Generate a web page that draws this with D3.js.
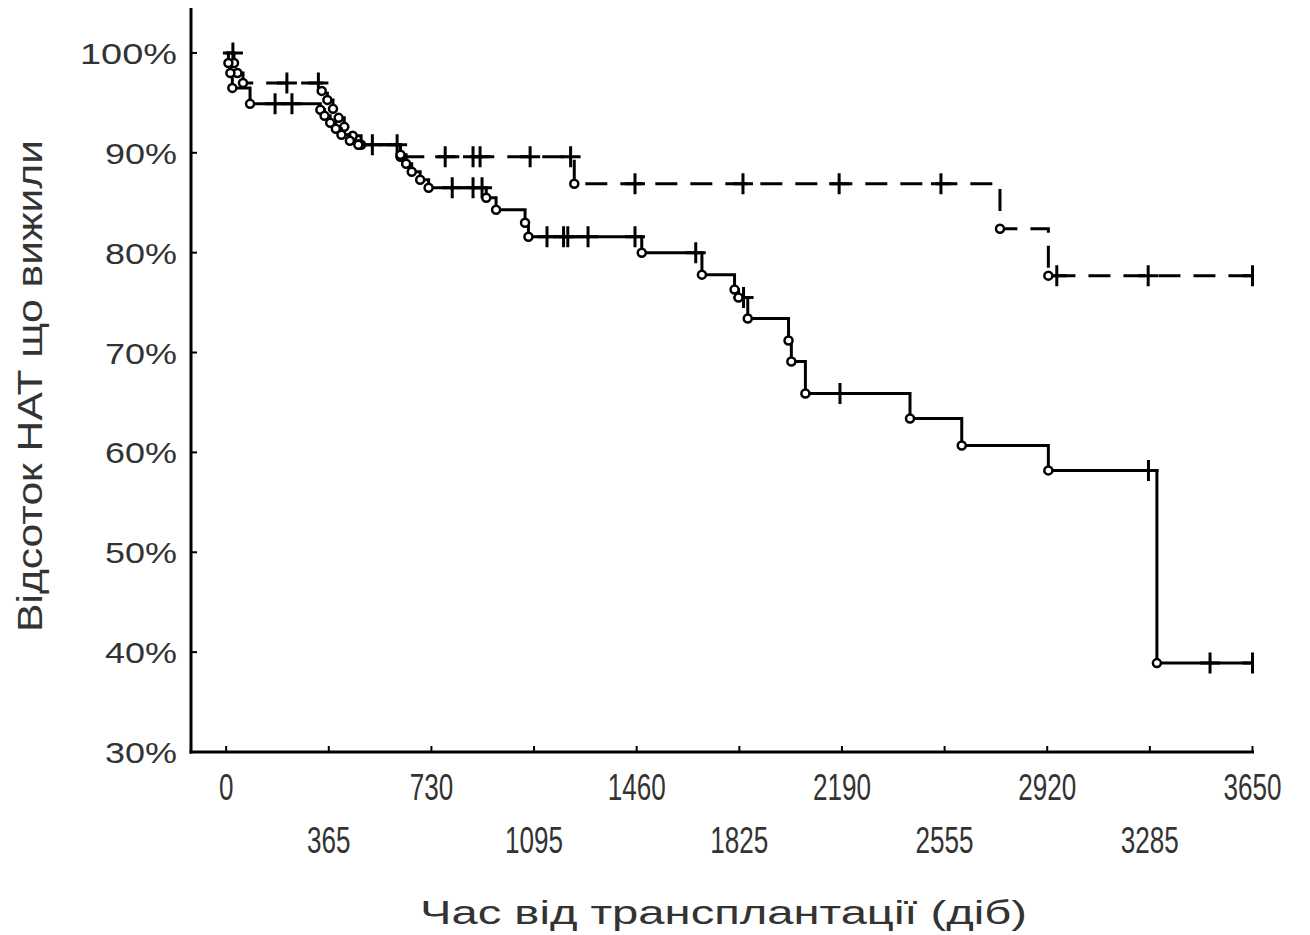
<!DOCTYPE html>
<html>
<head>
<meta charset="utf-8">
<script src="https://cdn.jsdelivr.net/npm/d3@7/dist/d3.min.js"></script>
<style>
html,body{margin:0;padding:0;background:#fff;}
svg{display:block;}
text{font-family:"Liberation Sans", Arial, sans-serif;fill:#333;}
</style>
</head>
<body>
<svg id="chart" width="1310" height="935"></svg>
<script>
// ---- data ----
const xTickValues = [0, 365, 730, 1095, 1460, 1825, 2190, 2555, 2920, 3285, 3650];
const yTickValues = [0.3, 0.4, 0.5, 0.6, 0.7, 0.8, 0.9, 1.0];
const yTickLabels = ["30%", "40%", "50%", "60%", "70%", "80%", "90%", "100%"];
const xTitle = "Час від трансплантації (діб)";
const yTitle = "Відсоток НАТ що вижили";

// solid group: event days / survival after event, censored days
const solidEventDays = [8, 15, 22, 85, 335, 350, 370, 390, 410, 440, 470, 620, 640, 660, 690, 720, 925, 960, 1063, 1075, 1478, 1692, 1808, 1822, 1855, 2000, 2010, 2060, 2432, 2616, 2924, 3310];
const solidEventSurv = [0.99, 0.98, 0.965, 0.949, 0.943, 0.937, 0.930, 0.924, 0.918, 0.912, 0.908, 0.898, 0.889, 0.881, 0.873, 0.865, 0.855, 0.843, 0.830, 0.816, 0.800, 0.778, 0.763, 0.755, 0.734, 0.712, 0.691, 0.659, 0.634, 0.607, 0.582, 0.389];
const solidCensorDays = [174, 234, 520, 804, 878, 910, 1141, 1200, 1215, 1287, 1454, 1670, 1840, 2183, 3280, 3499, 3650];

// dashed group
const dashEventDays = [28, 40, 60, 340, 360, 380, 400, 420, 450, 480, 620, 1238, 2752, 2924];
const dashEventSurv = [0.99, 0.98, 0.97, 0.962, 0.953, 0.944, 0.935, 0.926, 0.917, 0.908, 0.896, 0.869, 0.824, 0.777];
const dashCensorDays = [24, 216, 328, 608, 779, 878, 903, 1081, 1225, 1454, 1838, 2180, 2542, 2954, 3279, 3650];

// ---- layout ----
const svg = d3.select("#chart");
const x = d3.scaleLinear().domain([-125, 3650]).range([191, 1252.5]);
const y = d3.scaleLinear().domain([0.3, 1.043]).range([752, 10]);

svg.append("defs").append("clipPath").attr("id", "plotClip")
  .append("rect").attr("x", 191).attr("y", 0).attr("width", 1254 - 191).attr("height", 752);

function survAt(days, surv, t) {
  let s = 1;
  for (let i = 0; i < days.length; i++) if (days[i] <= t) s = surv[i];
  return s;
}
function stepPoints(days, surv, end) {
  const pts = [[0, 1]];
  let prev = 1;
  days.forEach((t, i) => { pts.push([t, prev]); pts.push([t, surv[i]]); prev = surv[i]; });
  pts.push([end, prev]);
  return pts;
}
const line = d3.line().x(d => x(d[0])).y(d => y(d[1]));

function drawGroup(days, surv, censor, dashed) {
  const end = d3.max(censor.concat(days));
  const g = svg.append("g").attr("clip-path", "url(#plotClip)");
  g.append("path")
    .attr("d", line(stepPoints(days, surv, end)))
    .attr("fill", "none").attr("stroke", "#000").attr("stroke-width", 3)
    .attr("stroke-dasharray", dashed ? "22,13" : null);
  // censored "+"
  censor.forEach(t => {
    const cx = x(t), cy = y(survAt(days, surv, t));
    g.append("path")
      .attr("d", `M${cx - 10},${cy}H${cx + 10}M${cx},${cy - 10.5}V${cy + 10.5}`)
      .attr("stroke", "#000").attr("stroke-width", 3).attr("fill", "none");
  });
  // event circles
  days.forEach((t, i) => {
    g.append("circle").attr("cx", x(t)).attr("cy", y(surv[i])).attr("r", 4)
      .attr("fill", "#fff").attr("stroke", "#000").attr("stroke-width", 2.5);
  });
}

drawGroup(dashEventDays, dashEventSurv, dashCensorDays, true);
drawGroup(solidEventDays, solidEventSurv, solidCensorDays, false);

// ---- axes ----
const axes = svg.append("g");
axes.append("line").attr("x1", 191).attr("x2", 191).attr("y1", 8).attr("y2", 753.5)
  .attr("stroke", "#000").attr("stroke-width", 3);
axes.append("line").attr("x1", 189.5).attr("x2", 1254).attr("y1", 752).attr("y2", 752)
  .attr("stroke", "#000").attr("stroke-width", 3);

xTickValues.forEach((v, i) => {
  axes.append("line").attr("x1", x(v)).attr("x2", x(v)).attr("y1", 752).attr("y2", 746)
    .attr("stroke", "#000").attr("stroke-width", 2);
  const lbl = String(v);
  const w = 14.5 * lbl.length;
  axes.append("text")
    .attr("x", x(v) - w / 2).attr("y", i % 2 === 0 ? 800 : 853)
    .attr("font-size", 36)
    .attr("textLength", w).attr("lengthAdjust", "spacingAndGlyphs")
    .text(lbl);
});

yTickValues.forEach((v, i) => {
  if (v > 0.3) axes.append("line").attr("x1", 191).attr("x2", 197).attr("y1", y(v)).attr("y2", y(v))
    .attr("stroke", "#000").attr("stroke-width", 2);
  const lbl = yTickLabels[i];
  const w = lbl.length === 4 ? 97 : 72;
  axes.append("text")
    .attr("x", 177 - w).attr("y", y(v) + 11)
    .attr("font-size", 30)
    .attr("textLength", w).attr("lengthAdjust", "spacingAndGlyphs")
    .text(lbl);
});

// titles
svg.append("text")
  .attr("x", 420).attr("y", 924)
  .attr("font-size", 33)
  .attr("textLength", 607).attr("lengthAdjust", "spacingAndGlyphs")
  .text(xTitle);

svg.append("text")
  .attr("transform", "translate(42,632) rotate(-90)")
  .attr("x", 0).attr("y", 0)
  .attr("font-size", 35)
  .attr("textLength", 492).attr("lengthAdjust", "spacingAndGlyphs")
  .text(yTitle);
</script>
</body>
</html>
